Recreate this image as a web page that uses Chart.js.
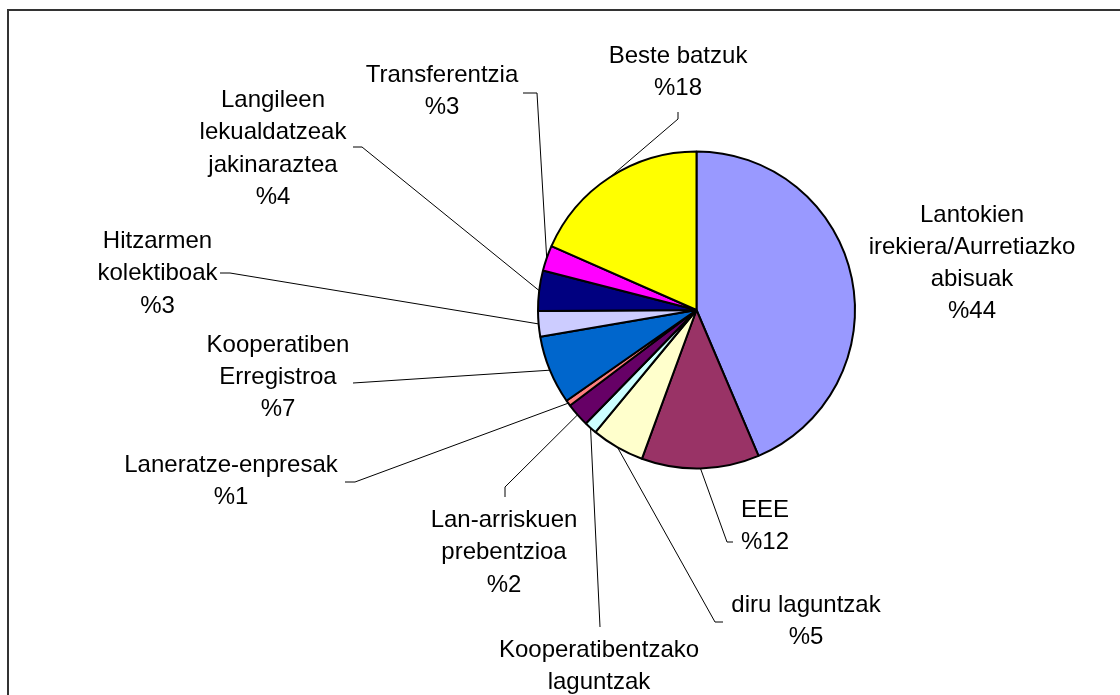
<!DOCTYPE html>
<html>
<head>
<meta charset="utf-8">
<script src="https://cdn.jsdelivr.net/npm/chart.js@4.4.1/dist/chart.umd.min.js"></script>
<style>
  html, body { margin: 0; padding: 0; background: #fff; }
  canvas { display: block; }
</style>
</head>
<body>
<canvas id="pieChart" width="1120" height="695"></canvas>
<script>
// categories (label lines, without the percentage line)
const categories = [
    ['Lantokien', 'irekiera/Aurretiazko', 'abisuak'],
    ['EEE'],
    ['diru laguntzak'],
    ['Kooperatibentzako', 'laguntzak'],
    ['Lan-arriskuen', 'prebentzioa'],
    ['Laneratze-enpresak'],
    ['Kooperatiben', 'Erregistroa'],
    ['Hitzarmen', 'kolektiboak'],
    ['Langileen', 'lekualdatzeak', 'jakinaraztea'],
    ['Transferentzia'],
    ['Beste batzuk']
];

// share of each category, in percent
const shares = [43.6, 12.0, 5.4, 1.3, 2.4, 0.6, 7.0, 2.6, 4.1, 2.6, 18.4];

const sliceColors = [
    '#9999FF', '#993366', '#FFFFCC', '#CCFFFF', '#660066', '#FF8080',
    '#0066CC', '#CCCCFF', '#000080', '#FF00FF', '#FFFF00'
];

// where each label sits: centre x, baseline of the first line
const labelPos = [
    [972, 221.5], [765, 516.5], [806, 611.5], [599, 656.5], [504, 527],
    [231, 471.5], [278, 351.5], [157.5, 248], [273, 107], [442, 81.5], [678, 63]
];

// start of each leader line next to its label (and the small elbow), null = no leader
const leaderStubs = [
    null,
    [[733, 542], [727, 542]],
    [[723, 622], [715, 622]],
    [[600, 627]],
    [[505, 497], [505, 487]],
    [[345, 482], [355, 482]],
    [[353, 383]],
    [[220, 273], [230, 273]],
    [[353, 147], [362, 147]],
    [[523, 93], [537, 93]],
    [[678, 112], [678, 119]]
];

const lineHeight = 32.3;
const labelFont = '24px "Liberation Sans", Arial, sans-serif';

const pieLabels = {
    id: 'pieLabels',
    beforeDraw(chart) {
        const ctx = chart.ctx;
        ctx.save();
        ctx.fillStyle = '#fff';
        ctx.fillRect(0, 0, chart.width, chart.height);
        // outer frame (only top and left edges are visible)
        ctx.strokeStyle = '#333';
        ctx.lineWidth = 2;
        ctx.strokeRect(8, 10, chart.width + 20, chart.height + 20);
        ctx.restore();
    },
    afterDraw(chart) {
        const ctx = chart.ctx;
        const arcs = chart.getDatasetMeta(0).data;
        ctx.save();

        // leader lines
        ctx.strokeStyle = '#000';
        ctx.lineWidth = 1;
        arcs.forEach((arc, i) => {
            const stub = leaderStubs[i];
            if (!stub) return;
            const mid = (arc.startAngle + arc.endAngle) / 2;
            const ex = arc.x + Math.cos(mid) * arc.outerRadius;
            const ey = arc.y + Math.sin(mid) * arc.outerRadius;
            ctx.beginPath();
            ctx.moveTo(stub[0][0], stub[0][1]);
            for (let k = 1; k < stub.length; k++) {
                ctx.lineTo(stub[k][0], stub[k][1]);
            }
            ctx.lineTo(ex, ey);
            ctx.stroke();
        });

        // label texts
        ctx.fillStyle = '#000';
        ctx.font = labelFont;
        ctx.textAlign = 'center';
        ctx.textBaseline = 'alphabetic';
        categories.forEach((lines, i) => {
            const all = lines.concat(['%' + Math.round(shares[i])]);
            const [x, y] = labelPos[i];
            all.forEach((txt, k) => {
                ctx.fillText(txt, x, y + k * lineHeight);
            });
        });
        ctx.restore();
    }
};

const ctxPie = document.getElementById('pieChart').getContext('2d');
const pieChart = new Chart(ctxPie, {
    type: 'pie',
    data: {
        labels: categories.map(c => c.join(' ')),
        datasets: [{
            data: shares,
            backgroundColor: sliceColors,
            borderColor: '#000',
            borderWidth: 2
        }]
    },
    options: {
        responsive: false,
        animation: false,
        layout: {
            padding: { left: 537, right: 264, top: 150.5, bottom: 225.5 }
        },
        plugins: {
            legend: { display: false },
            tooltip: { enabled: false }
        }
    },
    plugins: [pieLabels]
});
</script>
</body>
</html>
